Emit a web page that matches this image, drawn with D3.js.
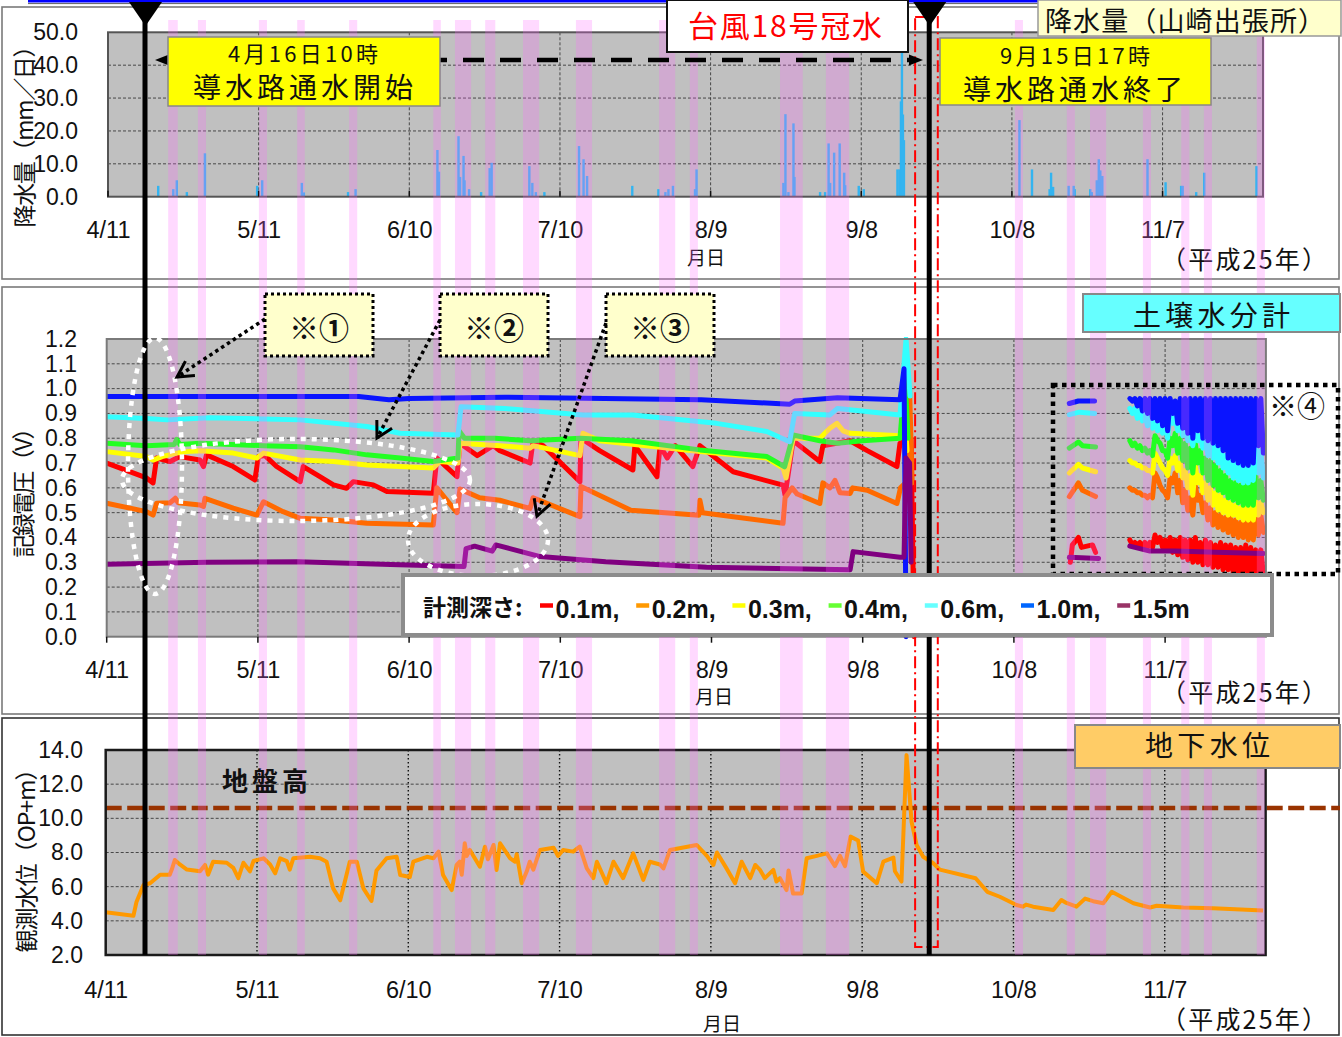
<!DOCTYPE html>
<html><head><meta charset="utf-8">
<script src="https://cdn.jsdelivr.net/npm/d3@7"></script>
<style>
body{margin:0;background:#fff}
svg{display:block}
text{font-family:"Liberation Sans",Arial,sans-serif;fill:#111}
.jp{font-family:"Noto Sans CJK JP","Noto Sans",sans-serif}
</style>
</head><body>
<svg id="c" width="1342" height="1037"></svg>
<script>
// ---------------- DATA ----------------
// x values are days counted from 4/11 (平成25年)
const tickDays   = [0,30,60,90,120,150,180,210];
const tickLabels = ["4/11","5/11","6/10","7/10","8/9","9/8","10/8","11/7"];

// daily precipitation (山崎出張所)
const rainDay = [10,13,13.7,15.7,19.3,29.7,30.7,38.6,39,47.8,49.3,65.6,65.9,69.8,70.1,70.8,71,71.9,74.3,76,76.4,83.9,84.5,85.2,86.9,93.8,94.7,95.4,104.4,109.6,111,111.6,112.5,116.9,117.2,134.5,134.9,135.5,136.5,136.7,141.8,142.8,143.5,143.8,144.6,145.7,146.6,146.8,149.5,150.5,157.2,157.6,157.9,158.1,158.3,158.5,181.5,184,187.5,187.8,188.2,191.3,192.3,192.5,195.6,195.9,196.9,197.3,197.6,198,207,210.6,213.7,214,216.7,218.3,228.7];
const rainMm  = [3.3,2.3,5,1.4,13.2,3.3,5,4.2,1.3,1.4,2.3,14.2,7.6,18.4,6,12.4,5,2.3,1.4,8.7,10.3,9.3,4.2,1.4,1.4,15.4,11.4,6.3,3.3,2.3,1.4,2.3,3.3,2.3,8.3,4.2,25.1,1.4,22.3,6,1.4,1.4,16.2,4.2,13.4,16.2,7.3,3.5,3.3,2.3,8.3,8.3,29,45,25,17.2,23.3,8.3,2.3,7.3,3,3.3,3.3,2.3,2.3,1.4,5,11.4,8,6.3,11.4,4.4,3.3,3.3,1.4,7.3,9.3];

// soil moisture meters (記録電圧 V), depth order
const soilDepths   = ["0.1m","0.2m","0.3m","0.4m","0.6m","1.0m","1.5m"];
const soilColors   = ["#ff0000","#ff6a00","#ffff00","#22ff22","#33ffff","#0a14ff","#800080"];
const legendColors = ["#ff0000","#ff9900","#ffff00","#66ff33","#66ffff","#0066ff","#993366"];

const soil01 = [[0,.70],[7.9,.64],[9.2,.62],[9.9,.72],[12.6,.706],[14.5,.726],[18.5,.712],[19.2,.686],[19.8,.733],[25.1,.686],[29.4,.632],[30.1,.726],[31.4,.73],[33.7,.686],[38.4,.625],[39,.686],[42.3,.645],[45,.612],[47.6,.598],[48.9,.625],[52.9,.612],[55.6,.585],[64.8,.578],[65.5,.72],[69.5,.645],[70.1,.78],[73.5,.73],[76.7,.77],[78,.75],[84,.70],[84.6,.79],[86.6,.77],[93.9,.625],[94.1,.80],[97.8,.75],[104.4,.672],[104.8,.77],[109.2,.645],[109.8,.77],[111.2,.72],[112.8,.77],[116.3,.686],[117.7,.77],[124.3,.665],[134.2,.611],[134.6,.57],[136.2,.79],[141.5,.706],[142.1,.77],[147.5,.79],[150.9,.75],[156.8,.686],[157.4,.78],[159.6,.80],[160.2,0]];
const soil02 = [[0,.538],[7.9,.504],[9.2,.49],[9.9,.538],[12.6,.54],[13.6,.558],[14.2,.54],[18.5,.531],[19.2,.525],[19.5,.558],[25.1,.518],[29.8,.49],[31.1,.544],[35,.504],[38.4,.477],[45,.47],[51.6,.457],[64.8,.45],[65.5,.60],[69.5,.50],[70.1,.595],[74,.56],[78,.55],[84,.517],[84.6,.56],[93.9,.484],[94.1,.605],[104,.51],[117.5,.49],[117.7,.55],[118.2,.50],[134.2,.457],[134.6,.56],[136,.60],[137,.575],[141.5,.537],[142.1,.62],[143.5,.60],[144.5,.63],[145.5,.58],[147.5,.577],[148,.60],[150.9,.59],[156.8,.537],[157.5,.60],[158.5,.62],[159.3,1.0],[159.8,.62]];
const soil03 = [[0,.746],[7.9,.726],[9.2,.712],[11,.726],[13.9,.74],[15.9,.746],[18.5,.75],[25.1,.74],[29.8,.72],[31.1,.74],[38.4,.712],[45,.706],[51.6,.692],[58.2,.686],[64.8,.68],[66.1,.706],[69.7,.70],[70.1,.78],[78,.77],[84,.76],[84.6,.77],[93.9,.73],[94.5,.82],[97.8,.79],[117.7,.746],[131,.72],[134.2,.68],[134.8,.64],[136.2,.80],[141.5,.80],[143.5,.84],[144.9,.86],[146.1,.83],[147.5,.82],[157.4,.81],[158.3,.90],[158.8,.75]];
const soil04 = [[0,.78],[7.9,.77],[13.4,.775],[13.9,.795],[14.5,.775],[18.5,.78],[31.1,.77],[38.4,.766],[45,.753],[51.6,.733],[58.2,.72],[64.8,.706],[69.7,.72],[69.9,.83],[71,.80],[77,.80],[84,.79],[94,.80],[104,.79],[117.7,.753],[131,.726],[134.5,.685],[136.2,.813],[141.5,.79],[145,.78],[150,.79],[157.4,.80],[158.4,1.05],[159,.80]];
const soil06 = [[0,.887],[7.9,.88],[12,.874],[20.5,.883],[38.4,.874],[51.6,.847],[58.2,.82],[69.7,.813],[70.3,.927],[79,.92],[94.5,.894],[104.4,.894],[121,.86],[131,.827],[135.5,.786],[136.5,.90],[143.5,.894],[145,.92],[157.4,.894],[158.6,1.2],[159.4,.97]];
const soil10 = [[0,.968],[50,.968],[56,.955],[60,.96],[79,.965],[118,.955],[135.5,.937],[136.5,.95],[145,.963],[157.4,.955],[158.2,1.08],[158.6,0]];
const soil15 = [[0,.292],[20,.30],[38,.302],[58,.29],[70.9,.283],[71.3,.355],[73,.365],[76.5,.345],[77.2,.37],[80,.355],[86,.323],[99,.302],[119,.28],[147.5,.27],[148.1,.343],[157.4,.32],[158.2,.32],[158.6,.72],[159.3,.70],[159.6,.30]];

// short record in mid October
const oct01 = [[191.2,.30],[191.6,.37],[192.8,.40],[193.4,.36],[195.6,.37],[196.2,.34]];
const oct02 = [[191,.565],[192.8,.62],[193.6,.59],[196.2,.565]];
const oct03 = [[191,.66],[192.8,.695],[193.6,.68],[196.2,.665]];
const oct04 = [[191,.76],[192.8,.785],[193.6,.77],[196.2,.765]];
const oct06 = [[191,.895],[193,.905],[196,.90]];
const oct10 = [[191,.94],[192.8,.95],[196,.95]];
const oct15 = [[191,.32],[196.8,.315]];

// late record (from day 203): daily high / low, in 1/100 V
const lateStart = 203;
const late01Hi = [39,38,38,38,38,41,40,39,40,39,40,39,39,40,38,39,38,37,38,37,37,36,36,37,36,35,35];
const late01Lo = [37,37,36,36,36,38,36,35,34,33,32,31,30,30,29,29,28,28,27,27,26,26,26,26,25,25,25];
const late02Hi = [60,59,58,57,57,66,61,58,64,66,63,59,56,61,57,54,52,50,49,48,48,47,46,46,46,48,49];
const late02Lo = [59,58,57,56,56,64,59,56,62,58,54,51,49,55,50,47,45,44,43,42,41,40,40,39,39,41,42];
const late03Hi = [71,70,69,68,67,74,70,67,72,73,70,67,65,69,65,62,60,58,57,55,54,53,52,52,52,55,54];
const late03Lo = [70,69,68,67,66,72,68,65,70,67,64,60,57,62,58,55,53,51,50,49,49,48,47,47,47,49,50];
const late04Hi = [79,78,77,76,75,81,78,75,80,82,80,78,76,78,75,72,71,69,67,65,63,62,61,61,62,65,63];
const late04Lo = [77,76,75,74,73,79,75,72,77,74,71,68,66,70,66,63,61,59,58,56,55,54,53,53,53,56,55];
const late06Hi = [92,92,91,90,89,88,87,85,91,88,86,84,82,84,81,80,79,78,76,73,72,71,70,70,71,78,75];
const late06Lo = [90,88,87,85,84,83,82,80,86,83,81,79,77,79,76,73,72,70,68,66,64,63,62,62,63,66,64];
const late10Hi = [96,96,96,96,96,96,96,96,96,95,96,96,96,96,96,96,96,96,96,96,96,96,96,96,96,96,96];
const late10Lo = [95,93,91,90,88,87,85,83,90,86,84,82,80,83,80,79,78,77,75,72,71,70,69,69,70,77,74];
const late15   = [[203,.365],[207,.345],[212,.345],[220,.34],[229.5,.335]];

// groundwater level (OP+m)
const groundwater = [[0,4.5],[5.5,4.3],[6.1,5.1],[7.5,6.1],[8.8,6.2],[10.8,6.7],[12.7,6.7],[13.1,7.0],[13.7,7.56],[14.7,7.3],[16.1,7.0],[18.7,6.9],[19.7,7.27],[20.3,6.7],[21.3,7.46],[24,7.4],[25.3,7.1],[26.3,6.5],[27.3,7.4],[28.6,6.9],[29.3,7.5],[31.3,7.66],[32.6,7.3],[33.6,6.78],[34.6,7.66],[35.9,7.5],[36.5,7.0],[37.2,7.66],[40.5,7.75],[42.5,7.66],[43.8,7.46],[45.1,5.9],[46.5,5.2],[48.4,7.46],[49.8,7.46],[51.1,5.9],[52.7,5.16],[53.7,6.95],[55.7,7.66],[57.7,7.75],[58.4,6.68],[60.3,6.57],[61,7.46],[63.7,7.75],[65,7.66],[66,8.05],[66.9,6.68],[68.6,5.8],[69.6,7.27],[70.2,7.46],[70.6,6.7],[71.2,8.54],[71.6,7.8],[72.2,8.15],[74.2,7.17],[75.2,8.34],[75.8,7.6],[76.9,8.44],[77.5,6.98],[78.2,8.54],[80.2,7.66],[81.2,7.46],[81.5,7.9],[82.5,6.2],[83.5,6.9],[84.1,7.46],[84.8,7.0],[86.1,8.15],[88.8,8.28],[89.7,7.8],[90.7,8.15],[92.7,8.05],[94,8.34],[95.4,7.07],[96.7,6.5],[97.4,7.46],[99.3,6.2],[100.7,7.46],[102.6,6.5],[104.6,7.95],[106.6,6.4],[107.9,7.46],[109.9,7.3],[110.6,7.07],[111.9,8.15],[117.2,8.44],[119.2,7.8],[120.5,7.27],[121.2,8.0],[123.1,7.07],[124.8,6.2],[126.1,7.46],[127.8,6.5],[128.8,7.27],[129.7,7.0],[130.7,6.5],[132.4,6.98],[133,6.3],[133.7,6.5],[135,5.8],[135.4,6.95],[136.3,5.6],[138,5.6],[139,7.66],[141,7.8],[143,7.95],[144.6,7.2],[145.6,7.8],[146.6,7.2],[147.7,8.93],[149.2,8.7],[150.2,6.88],[152.9,6.2],[154.2,7.46],[156.2,7.7],[156.5,6.9],[157.8,6.3],[158.8,13.7],[159.8,9.8],[160.8,8.44],[162.1,7.75],[164.1,7.37],[165.4,7.0],[172.5,6.49],[174.8,5.7],[177.3,5.41],[180.6,4.93],[181.9,4.83],[182.5,4.95],[183.9,4.83],[187.9,4.63],[189.5,5.22],[190.5,5.05],[192.5,4.83],[194.2,5.3],[195.8,5.15],[197.8,5.03],[199.5,5.7],[203.8,5.03],[207.1,4.78],[208.4,4.88],[213.7,4.78],[219.6,4.73],[229.5,4.6]];
const groundLevel = 10.6;   // 地盤高

// rain periods (pink bands) [from, to] in days
const rainBands = [[12.2,14.1],[18.1,19.7],[30.2,31.8],[37.8,39.3],[48.1,49.7],[64.8,66.3],[69.1,72.3],[75.1,77.1],[82.6,85.8],[93.1,96.3],[109.6,112.8],[115.7,117.3],[133.6,138.1],[142.7,147.3],[180.2,181.8],[190.5,192.1],[195.1,198.3],[205.6,207.2],[213.2,214.8],[217.7,219.3],[228.2,229.8]];
const flowStartDay = 7.6, flowEndDay = 163.2;      // 導水路通水 開始 / 終了 lines
const floodDays = [160.4, 164.9];                   // 台風18号冠水 period

// ---------------- SCALES ----------------
const T0 = new Date(2013,3,11).getTime();
const day = d => new Date(T0 + d*864e5);
const DOM = [day(0), day(230)];
const xR = d3.scaleTime().domain(DOM).range([108,1263]);
const yR = d3.scaleLinear().domain([0,50]).range([196.7,32.3]);
const xS = d3.scaleTime().domain(DOM).range([106.7,1265.9]);
const yS = d3.scaleLinear().domain([0,1.2]).range([636.7,339]);
const xG = d3.scaleTime().domain(DOM).range([105.7,1265.6]);
const yG = d3.scaleLinear().domain([2,14]).range([955,750]);

const svg = d3.select("#c");
const defs = svg.append("defs");

function txt(x,y,s,size,o={}){
  const t = svg.append("text").attr("x",x).attr("y",y).text(s)
    .attr("font-size",size).attr("text-anchor",o.anchor||"start");
  t.attr("class", o.latin ? null : "jp");
  if(o.len) t.attr("textLength",o.len).attr("lengthAdjust","spacing");
  if(o.bold) t.attr("font-weight","bold");
  if(o.fill) t.style("fill",o.fill);
  if(o.rot) t.attr("transform",`rotate(-90,${x},${y})`);
  return t;
}

// ---------------- PANEL FRAMES ----------------
svg.append("rect").attr("x",28).attr("y",0).attr("width",1012).attr("height",2.5).attr("fill","#0000ff");
svg.append("line").attr("x1",28).attr("x2",1040).attr("y1",3.6).attr("y2",3.6).attr("stroke","#333").attr("stroke-width",0.8);
[[7,279,"#7a7a7a"],[287,714,"#7a7a7a"],[718,1035,"#333"]].forEach(([a,b,c])=>{
  svg.append("rect").attr("x",2).attr("y",a).attr("width",1337).attr("height",b-a)
    .attr("fill","#fff").attr("stroke",c).attr("stroke-width",1.6);
});

function plotArea(x,y,yTicks,vStyle){
  const [x0,x1] = x.range(), [yb,yt] = y.range();
  const g = svg.append("g");
  g.append("rect").attr("x",x0).attr("y",yt).attr("width",x1-x0).attr("height",yb-yt).attr("fill","#c0c0c0");
  g.selectAll(null).data(yTicks.slice(1,-1)).join("line")
    .attr("x1",x0).attr("x2",x1).attr("y1",d=>y(d)).attr("y2",d=>y(d))
    .attr("stroke","#3a3a3a").attr("stroke-width",0.9).attr("stroke-dasharray","3,2");
  g.selectAll(null).data(tickDays.slice(1)).join("line")
    .attr("x1",d=>x(day(d))).attr("x2",d=>x(day(d))).attr("y1",yt).attr("y2",yb)
    .attr("stroke",vStyle.c).attr("stroke-width",vStyle.w).attr("stroke-dasharray",vStyle.dash);
  return g;
}
function border(x,y,c,w){
  const [x0,x1] = x.range(), [yb,yt] = y.range();
  svg.append("rect").attr("x",x0).attr("y",yt).attr("width",x1-x0).attr("height",yb-yt)
    .attr("fill","none").attr("stroke",c).attr("stroke-width",w);
}
function axes(x,y,yTicks,fmt,yPad,xOff,tickDir){
  const [yb] = y.range(), [x0] = x.range();
  const ya = svg.append("g").attr("transform",`translate(${x0},0)`)
    .call(d3.axisLeft(y).tickValues(yTicks).tickFormat(fmt).tickSize(0).tickPadding(yPad));
  ya.select(".domain").remove();
  ya.selectAll("text").attr("font-size",23).attr("font-family","Liberation Sans, Arial, sans-serif").style("fill","#111");
  const xa = svg.append("g").attr("transform",`translate(0,${yb})`)
    .call(d3.axisBottom(x).tickValues(tickDays.map(day)).tickFormat((d,i)=>tickLabels[i]).tickSize(0));
  xa.select(".domain").remove();
  xa.selectAll("text").attr("y",xOff).attr("dy","0.36em").attr("font-size",23.5)
    .attr("font-family","Liberation Sans, Arial, sans-serif").style("fill","#111");
  if(tickDir){
    svg.append("g").selectAll("line").data(tickDays).join("line")
      .attr("x1",d=>x(day(d))).attr("x2",d=>x(day(d))).attr("y1",yb).attr("y2",yb+tickDir)
      .attr("stroke","#111").attr("stroke-width",1.5);
  }
}

// ---- Panel 1: precipitation ----
const rainTicks = [0,10,20,30,40,50];
plotArea(xR,yR,rainTicks,{c:"#3a3a3a",w:0.9,dash:"3,2"});
svg.append("g").selectAll("rect").data(rainDay.map((d,i)=>[d,rainMm[i]])).join("rect")
  .attr("x",d=>xR(day(d[0]))-1.2).attr("width",2.4)
  .attr("y",d=>yR(d[1])).attr("height",d=>yR(0)-yR(d[1])).attr("fill","#33b4f0");
border(xR,yR,"#555",2);
axes(xR,yR,rainTicks,d3.format(".1f"),30,33.3,-6);

// ---- Panel 2: soil moisture ----
const soilTicks = d3.range(0,13).map(i=>i/10);
plotArea(xS,yS,soilTicks,{c:"#3a3a3a",w:0.9,dash:"3,2"});
defs.append("clipPath").attr("id","clipS").append("rect")
  .attr("x",106.7).attr("y",337).attr("width",1159.2).attr("height",303);
const soilMain = [soil01,soil02,soil03,soil04,soil06,soil10,soil15];
const soilOct  = [oct01,oct02,oct03,oct04,oct06,oct10,oct15];
const lateHi = [late01Hi,late02Hi,late03Hi,late04Hi,late06Hi,late10Hi,null];
const lateLo = [late01Lo,late02Lo,late03Lo,late04Lo,late06Lo,late10Lo,null];
const lineS = d3.line().x(d=>xS(day(d[0]))).y(d=>yS(d[1]));
const gS = svg.append("g").attr("clip-path","url(#clipS)");
soilDepths.forEach((name,k)=>{
  let late;
  if(lateHi[k]){
    late = [];
    lateHi[k].forEach((h,i)=>{ late.push([lateStart+i, h/100]); late.push([lateStart+i+0.5, lateLo[k][i]/100]); });
  } else late = late15;
  [soilMain[k], soilOct[k], late].forEach(seg=>{
    gS.append("path").attr("d",lineS(seg)).attr("fill","none")
      .attr("stroke",soilColors[k]).attr("stroke-width",5)
      .attr("stroke-linejoin","round").attr("stroke-linecap","round");
  });
});
border(xS,yS,"#7a7a7a",2);
axes(xS,yS,soilTicks,d3.format(".1f"),29.7,33.3,6);

// ---- Panel 3: groundwater ----
const gwTicks = [2,4,6,8,10,12,14];
plotArea(xG,yG,gwTicks,{c:"#111",w:1.4,dash:"1.5,2.5"});
svg.append("line").attr("x1",xG.range()[0]).attr("x2",1340).attr("y1",yG(groundLevel)).attr("y2",yG(groundLevel))
  .attr("stroke","#993300").attr("stroke-width",4.5).attr("stroke-dasharray","16,5.5");
svg.append("path").attr("d",d3.line().x(d=>xG(day(d[0]))).y(d=>yG(d[1]))(groundwater))
  .attr("fill","none").attr("stroke","#ff9900").attr("stroke-width",4).attr("stroke-linejoin","round");
border(xG,yG,"#1a1a1a",2.5);
axes(xG,yG,gwTicks,d3.format(".1f"),22.7,35,0);

// axis titles / units
txt(25,131,"降水量（mm／日）",23,{anchor:"middle",rot:true,len:193}).attr("dy","0.35em");
txt(24,487,"記録電圧（V）",23,{anchor:"middle",rot:true,len:141}).attr("dy","0.35em");
txt(27,855,"観測水位（OP+m）",23,{anchor:"middle",rot:true,len:195}).attr("dy","0.35em");
[[706,265,269],[714,704,702],[722,1031,1029]].forEach(([mx,my,py])=>{
  txt(mx,my,"月日",19,{anchor:"middle"});
  txt(1161,py,"（平成25年）",25,{len:166});
});

// ---------------- RAIN BANDS ----------------
svg.append("g").selectAll("rect").data(rainBands).join("rect")
  .attr("x",d=>xS(day(d[0]))).attr("width",d=>xS(day(d[1]))-xS(day(d[0])))
  .attr("y",20).attr("height",935).attr("fill","#ff66ff").attr("opacity",0.25);

// ---------------- markers ----------------
svg.append("rect").attr("x",xS(day(floodDays[0]))).attr("y",17)
  .attr("width",xS(day(floodDays[1]))-xS(day(floodDays[0]))).attr("height",930)
  .attr("fill","none").attr("stroke","#ff0000").attr("stroke-width",2).attr("stroke-dasharray","12,4,2,4");
[flowStartDay,flowEndDay].forEach(d=>{
  const x = xS(day(d));
  svg.append("line").attr("x1",x).attr("x2",x).attr("y1",4).attr("y2",955).attr("stroke","#000").attr("stroke-width",5);
  svg.append("path").attr("d",`M${x-16},2L${x+17},2L${x+0.5},26Z`).attr("fill","#000");
});
// double arrow (通水期間)
{
  const a = 155, b = 923, y = 60;
  svg.append("line").attr("x1",a+12).attr("x2",b-12).attr("y1",y).attr("y2",y)
    .attr("stroke","#000").attr("stroke-width",4.5).attr("stroke-dasharray","21,16");
  svg.append("path").attr("d",`M${a},${y}L${a+14},${y-5.5}L${a+14},${y+5.5}Z`).attr("fill","#000");
  svg.append("path").attr("d",`M${b},${y}L${b-14},${y-5.5}L${b-14},${y+5.5}Z`).attr("fill","#000");
}

// ---------------- label boxes ----------------
function box(x,y,w,h,fill,stroke,sw,dash){
  const r = svg.append("rect").attr("x",x).attr("y",y).attr("width",w).attr("height",h)
    .attr("fill",fill).attr("stroke",stroke).attr("stroke-width",sw);
  if(dash) r.attr("stroke-dasharray",dash);
  return r;
}
box(1038,0,303,36,"#ffffcc","#999",1.5);
txt(1045,31,"降水量（山崎出張所）",27,{len:280});
box(168,37,272,69,"#ffff00","#888",1.5);
txt(228,62,"4月16日10時",22,{len:150});
txt(193,98,"導水路通水開始",28,{len:220});
box(940,38,271,67,"#ffff00","#888",1.5);
txt(1000,63.5,"9月15日17時",22,{len:150});
txt(963,100,"導水路通水終了",28,{len:220});
box(667,0,241,52,"#ffffff","#111",2);
txt(688,37,"台風18号冠水",30,{len:194,fill:"#ff0000"});
box(1083,294,257,38,"#66ffff","#888",2);
txt(1133,326,"土壌水分計",28,{len:157});
box(1075,725,265,43,"#ffcc66","#888",2);
txt(1145,756,"地下水位",28,{len:125});
txt(222,791,"地盤高",26,{len:86,bold:true});

// notes ※①②③
[[265,"※①"],[440,"※②"],[606,"※③"]].forEach(([x,s])=>{
  box(x,294,108,62,"#ffffcc","#000",3,"3,3");
  txt(x+54,338.5,s,30,{anchor:"middle",bold:true});
});
// ※④
box(1053,385,285,189,"none","#000",4.5,"4.5,4.5");
txt(1297,417,"※④",28,{anchor:"middle"});

// white dotted ellipses
[[155,466,27,128],[296,480,174,41],[478,540,70,36]].forEach(([cx,cy,rx,ry])=>{
  svg.append("ellipse").attr("cx",cx).attr("cy",cy).attr("rx",rx).attr("ry",ry)
    .attr("fill","none").attr("stroke","#fff").attr("stroke-width",4.5).attr("stroke-dasharray","5,6");
});
// dotted arrows
[[265,319,177,377],[440,320,377,438],[606,323,537,516]].forEach(([x1,y1,x2,y2])=>{
  svg.append("line").attr("x1",x1).attr("y1",y1).attr("x2",x2).attr("y2",y2)
    .attr("stroke","#000").attr("stroke-width",3.5).attr("stroke-dasharray","3.5,3.5");
  const a = Math.atan2(y2-y1,x2-x1), L = 18;
  const p1 = [x2-L*Math.cos(a-0.5), y2-L*Math.sin(a-0.5)], p2 = [x2-L*Math.cos(a+0.5), y2-L*Math.sin(a+0.5)];
  svg.append("path").attr("d",`M${p1}L${x2},${y2}L${p2}`).attr("fill","none")
    .attr("stroke","#000").attr("stroke-width",3);
});

// legend
box(403,575,869,60,"#ffffff","#8c8c8c",4);
txt(423,616,"計測深さ:",23,{bold:true});
soilDepths.forEach((name,k)=>{
  const x = 540 + k*96.2;
  svg.append("line").attr("x1",x).attr("x2",x+13).attr("y1",605.5).attr("y2",605.5)
    .attr("stroke",legendColors[k]).attr("stroke-width",4.5);
  txt(x+15.5,618,name + (k<soilDepths.length-1?",":""),25,{bold:true,latin:true});
});
</script>
</body></html>
